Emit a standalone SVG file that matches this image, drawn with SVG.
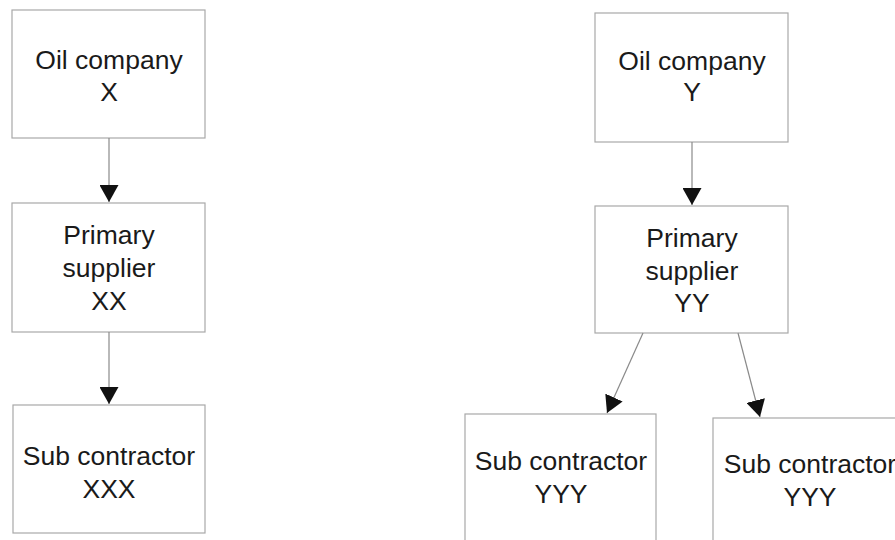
<svg xmlns="http://www.w3.org/2000/svg" width="895" height="540" viewBox="0 0 895 540">
  <style>
    .box { fill: #ffffff; stroke: #a8a8a8; stroke-width: 1.2; }
    .lbl { font-family: "Liberation Sans", Arial, sans-serif; font-size: 26.5px; fill: #1a1a1a; text-anchor: middle; }
    .link { stroke: #8a8a8a; stroke-width: 1.2; fill: none; marker-end: url(#tri); }
  </style>
  <defs>
    <marker id="tri" viewBox="0 0 17 19" refX="17" refY="9.5" markerWidth="17" markerHeight="19" markerUnits="userSpaceOnUse" orient="auto">
      <path d="M0,0 L17,9.5 L0,19 Z" fill="#111111"/>
    </marker>
  </defs>
  <rect width="895" height="540" fill="#ffffff"/>

  <!-- Chain X -->
  <g id="oil-x">
    <rect class="box" x="12" y="10" width="193" height="128"/>
    <text class="lbl" x="109" y="69">Oil company</text>
    <text class="lbl" x="109" y="101">X</text>
  </g>
  <g id="primary-xx">
    <rect class="box" x="12" y="203" width="193" height="129"/>
    <text class="lbl" x="109" y="244">Primary</text>
    <text class="lbl" x="109" y="277">supplier</text>
    <text class="lbl" x="109" y="310">XX</text>
  </g>
  <g id="sub-xxx">
    <rect class="box" x="13" y="405" width="192" height="128"/>
    <text class="lbl" x="109" y="465">Sub contractor</text>
    <text class="lbl" x="109" y="498">XXX</text>
  </g>

  <!-- Chain Y -->
  <g id="oil-y">
    <rect class="box" x="595" y="13" width="193" height="129"/>
    <text class="lbl" x="692" y="70">Oil company</text>
    <text class="lbl" x="692" y="101">Y</text>
  </g>
  <g id="primary-yy">
    <rect class="box" x="595" y="206" width="193" height="127"/>
    <text class="lbl" x="692" y="247">Primary</text>
    <text class="lbl" x="692" y="280">supplier</text>
    <text class="lbl" x="692" y="312">YY</text>
  </g>
  <g id="sub-yyy-1">
    <rect class="box" x="465" y="414" width="191" height="140"/>
    <text class="lbl" x="561" y="470">Sub contractor</text>
    <text class="lbl" x="561" y="503">YYY</text>
  </g>
  <g id="sub-yyy-2">
    <rect class="box" x="713" y="418" width="193" height="140"/>
    <text class="lbl" x="810" y="473">Sub contractor</text>
    <text class="lbl" x="810" y="506">YYY</text>
  </g>

  <!-- Connectors -->
  <g id="connectors">
    <line class="link" x1="109" y1="138" x2="109" y2="202"/>
    <line class="link" x1="109" y1="332" x2="109" y2="404"/>
    <line class="link" x1="692" y1="142" x2="692" y2="205"/>
    <line class="link" x1="643" y1="333" x2="607" y2="413"/>
    <line class="link" x1="738" y1="333" x2="760" y2="417"/>
  </g>
</svg>
